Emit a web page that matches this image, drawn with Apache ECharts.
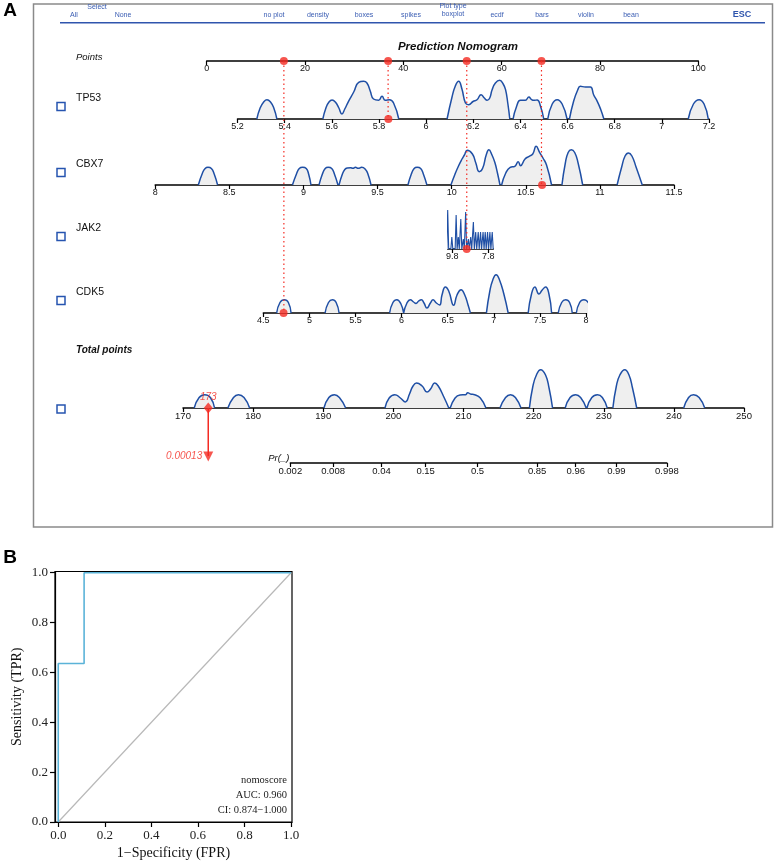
<!DOCTYPE html>
<html>
<head>
<meta charset="utf-8">
<title>Prediction Nomogram / ROC</title>
<script src="https://cdn.jsdelivr.net/npm/echarts/dist/echarts.min.js"></script>
<style>
    html, body { margin: 0; padding: 0; background: #fff; }
    #main { width: 775px; height: 863px; }
</style>
</head>
<body>
<div id="main"></div>
<script>
// ---------------- data ----------------
var varNames = ['TP53', 'CBX7', 'JAK2', 'CDK5'];
var varValues = [5.84, 10.61, 9.0, 4.72];      // patient's value on each variable axis (red dots)
var varPoints = [36.9, 68.1, 52.9, 15.7];      // points given by each value (red dots on Points)
var predProb = '0.00013';                      // predicted probability at the total points
var prTickLabels = ['0.002', '0.008', '0.04', '0.15', '0.5', '0.85', '0.96', '0.99', '0.998'];
var prTickAt = [185.3, 191.4, 198.3, 204.6, 212.0, 220.5, 226.0, 231.8, 239.0]; // place on total points scale
var jak2Ticks = [9.8, 7.8];

// density bumps: [value, height]
var tp53Density = [
    [[5.282, 0], [5.296, 11], [5.311, 17], [5.325, 19.3], [5.340, 17], [5.354, 11], [5.367, 0]],
    [[5.562, 0], [5.575, 11], [5.588, 17], [5.601, 19], [5.615, 17], [5.630, 11], [5.643, 5], [5.655, 10], [5.671, 17.7], [5.693, 27], [5.714, 36.7], [5.735, 37.7], [5.749, 36], [5.763, 28], [5.777, 20], [5.799, 18.7], [5.813, 22.7], [5.827, 18.7], [5.845, 19.3], [5.862, 16], [5.884, 0]],
    [[6.089, 0], [6.110, 22], [6.124, 33], [6.138, 37.7], [6.152, 30], [6.167, 16], [6.181, 14.3], [6.199, 17.5], [6.216, 19.3], [6.233, 24.3], [6.247, 21], [6.259, 18.7], [6.270, 21], [6.280, 29.3], [6.294, 36], [6.312, 38.7], [6.327, 35], [6.337, 29.3], [6.347, 15], [6.355, 0]],
    [[6.369, 0], [6.383, 12], [6.400, 18.7], [6.421, 18.7], [6.436, 22], [6.447, 19.5], [6.457, 18.7], [6.471, 19], [6.485, 13], [6.499, 0]],
    [[6.516, 0], [6.535, 15], [6.556, 19.3], [6.577, 15], [6.598, 0]],
    [[6.608, 0], [6.626, 18], [6.643, 29], [6.654, 32.7], [6.676, 32], [6.697, 32], [6.711, 24], [6.726, 17.7], [6.740, 10], [6.754, 0]],
    [[7.112, 0], [7.134, 15], [7.158, 19.3], [7.179, 15], [7.197, 0]]
];
var cbx7Density = [
    [[8.291, 0], [8.319, 12], [8.337, 16.5], [8.356, 17.7], [8.379, 16.5], [8.398, 11], [8.421, 0]],
    [[8.926, 0], [8.953, 11], [8.972, 16.5], [8.995, 17.7], [9.019, 16.5], [9.035, 11], [9.051, 0]],
    [[9.105, 0], [9.128, 11], [9.147, 16.5], [9.167, 17.7], [9.191, 16.5], [9.209, 11], [9.233, 0]],
    [[9.240, 0], [9.263, 11], [9.279, 15.5], [9.295, 17], [9.319, 17.3], [9.333, 16.7], [9.351, 17.7], [9.370, 16.7], [9.393, 17.7], [9.416, 16], [9.435, 11], [9.456, 0]],
    [[9.705, 0], [9.728, 11], [9.747, 16.5], [9.767, 17.7], [9.791, 16.5], [9.809, 11], [9.833, 0]],
    [[9.995, 0], [10.023, 11], [10.047, 19.3], [10.070, 26], [10.086, 30], [10.105, 34.7], [10.140, 31], [10.163, 22], [10.186, 13.3], [10.209, 16.7], [10.233, 30], [10.251, 35.3], [10.272, 30], [10.291, 22.7], [10.309, 12], [10.326, 0]],
    [[10.337, 0], [10.365, 12], [10.395, 17.7], [10.426, 18.7], [10.449, 23.3], [10.465, 19.3], [10.495, 26], [10.523, 28.7], [10.547, 31], [10.570, 38.7], [10.593, 32.7], [10.616, 27], [10.640, 20], [10.674, 0]],
    [[10.744, 0], [10.767, 22], [10.786, 32.5], [10.807, 35.3], [10.830, 32.5], [10.853, 22], [10.884, 0]],
    [[11.116, 0], [11.147, 18], [11.170, 29], [11.193, 32], [11.216, 29], [11.244, 18], [11.286, 0]]
];
// JAK2 is drawn as a comb of spikes: [value, height]
var jak2Spikes = [[10.06, 39], [9.83, 12], [9.59, 34], [9.47, 12], [9.33, 30], [9.19, 10], [9.06, 37], [8.91, 10], [8.78, 12], [8.63, 27], [8.50, 17], [8.36, 17], [8.23, 17], [8.09, 17], [7.97, 17], [7.84, 17], [7.71, 17], [7.58, 17]];
var cdk5Density = [
    [[4.645, 0], [4.681, 10.5], [4.728, 13.3], [4.772, 10.5], [4.801, 0]],
    [[5.170, 0], [5.207, 10.5], [5.250, 13.3], [5.290, 10.5], [5.322, 0]],
    [[5.870, 0], [5.906, 10.5], [5.949, 13.3], [5.993, 9], [6.022, 0]],
    [[6.022, 0], [6.058, 10], [6.094, 13.3], [6.130, 11], [6.156, 9.5], [6.185, 12], [6.214, 13.3], [6.243, 10], [6.275, 5], [6.312, 10], [6.341, 13.3], [6.377, 10], [6.413, 8], [6.438, 18], [6.475, 26], [6.511, 22], [6.565, 7.7], [6.601, 18], [6.645, 23.3], [6.685, 18], [6.721, 8], [6.746, 0]],
    [[6.920, 0], [6.957, 22], [6.989, 33], [7.025, 38.3], [7.062, 33], [7.109, 19], [7.156, 0]],
    [[7.373, 0], [7.409, 19], [7.446, 26], [7.489, 19], [7.525, 23], [7.562, 26], [7.598, 19], [7.627, 0]],
    [[7.699, 0], [7.736, 10.5], [7.779, 13.3], [7.822, 10.5], [7.851, 0]],
    [[7.895, 0], [7.931, 10.5], [7.978, 13.3], [8.025, 10.5], [8.076, 0]]
];
var totalDensity = [
    [[171.6, 0], [172.3, 10.5], [173.1, 13.3], [173.9, 10.5], [174.5, 0]],
    [[176.4, 0], [177.2, 10.5], [177.9, 13.3], [178.7, 10.5], [179.5, 0]],
    [[190.1, 0], [190.8, 10.5], [191.6, 13.3], [192.3, 10.5], [193.2, 0]],
    [[198.8, 0], [199.4, 10], [200.2, 13.3], [201.0, 10], [201.7, 6], [202.3, 14], [202.8, 22], [203.3, 25], [204.1, 22], [204.8, 16], [205.3, 19], [205.9, 25], [206.4, 22], [207.2, 11], [207.9, 0]],
    [[208.1, 0], [208.8, 10], [209.5, 13], [210.3, 13.3], [210.6, 15.3], [211.0, 14], [211.6, 13.3], [212.4, 10], [213.2, 0]],
    [[215.2, 0], [216.0, 10.5], [216.7, 13.3], [217.4, 10.5], [218.2, 0]],
    [[219.4, 0], [219.9, 22], [220.4, 33], [221.0, 38.3], [221.7, 33], [222.2, 20], [222.7, 0]],
    [[224.5, 0], [225.2, 10.5], [226.0, 13.3], [226.7, 10.5], [227.5, 0]],
    [[227.6, 0], [228.3, 10.5], [229.1, 13.3], [229.8, 10.5], [230.5, 0]],
    [[231.3, 0], [231.8, 22], [232.3, 33], [233.0, 38.3], [233.6, 33], [234.1, 20], [234.7, 0]],
    [[241.4, 0], [242.1, 10.5], [242.8, 13.3], [243.6, 10.5], [244.4, 0]]
];

// ROC curve
var rocFpr = [0, 0, 0.111, 0.111, 1];
var rocTpr = [0, 0.636, 0.636, 1, 1];
var rocTicks = [0, 0.2, 0.4, 0.6, 0.8, 1.0];
var rocLegend = ['nomoscore', 'AUC: 0.960', 'CI: 0.874\u22121.000'];

// ---------------- layout / style ----------------
var SANS = '"Liberation Sans", Arial, sans-serif';
var SERIF = '"Liberation Serif", "Times New Roman", serif';
var RED = '#f42a22';
var BLUE = '#1f4fa5';
var ROW_H = 42; // height of a density strip, 1 unit = 1px

// each row: y of the axis line, left/right px of the axis, range
var rows = [
    {key: 'Points', y: 61, left: 206.7, right: 698.3, min: 0, max: 100, step: 20},
    {key: 'TP53', y: 119, left: 237.5, right: 709, min: 5.2, max: 7.2, step: 0.2, dens: tp53Density},
    {key: 'CBX7', y: 185, left: 155.2, right: 674, min: 8, max: 11.5, step: 0.5, dens: cbx7Density},
    {key: 'JAK2', y: 249, left: 447.7, right: 493.3, min: 7.52, max: 10.06, inverse: true, ticks: jak2Ticks},
    {key: 'CDK5', y: 313, left: 263.3, right: 586, min: 4.5, max: 8, step: 0.5, dens: cdk5Density},
    {key: 'Total', y: 408, left: 183, right: 744, min: 170, max: 250, step: 10, dens: totalDensity, font: 9.5}
];
var PR_Y = 463;

function totalPx(v) {
    var t = rows[5];
    return t.left + (v - t.min) / (t.max - t.min) * (t.right - t.left);
}

// segments -> one line with gaps
function segData(segs) {
    var out = [];
    segs.forEach(function (s, i) {
        if (i > 0) out.push([s[0][0], null]);
        s.forEach(function (p) { out.push(p); });
    });
    return out;
}

// spikes -> zigzag comb
function combData(spikes) {
    var w = 0.055, out = [];
    spikes.forEach(function (s) {
        out.push([s[0] + w, 0]);
        out.push([s[0], s[1]]);
        out.push([s[0] - w, 0]);
    });
    return out;
}

function axisStyle(fontSize) {
    return {
        axisLine: {show: true, onZero: false, lineStyle: {color: '#000', width: 1.5}},
        axisTick: {show: true, length: 4, lineStyle: {color: '#000', width: 1.2}},
        axisLabel: {show: true, fontFamily: SANS, fontSize: fontSize || 9, color: '#111', margin: 3, hideOverlap: false, showMinLabel: true, showMaxLabel: true},
        splitLine: {show: false}
    };
}

var grids = [], xAxes = [], yAxes = [], series = [];

rows.forEach(function (r, i) {
    grids.push({left: r.left, top: r.y - ROW_H, width: r.right - r.left, height: ROW_H, outerBoundsMode: 'none'});
    var xa = Object.assign({type: 'value', gridIndex: i, min: r.min, max: r.max, inverse: !!r.inverse, position: 'bottom'}, axisStyle(r.font));
    if (r.step) xa.interval = r.step;
    if (r.ticks) {
        xa.axisTick.customValues = r.ticks;
        xa.axisLabel.customValues = r.ticks;
    }
    xAxes.push(xa);
    yAxes.push({type: 'value', gridIndex: i, min: 0, max: ROW_H, show: false});
});

// Pr axis (index 6), placed on the total points scale
var prMin = prTickAt[0], prMax = prTickAt[prTickAt.length - 1];
grids.push({left: totalPx(prMin), top: PR_Y - ROW_H, width: totalPx(prMax) - totalPx(prMin), height: ROW_H, outerBoundsMode: 'none'});
var prAxis = Object.assign({type: 'value', gridIndex: 6, min: prMin, max: prMax, position: 'bottom',
    name: 'Pr(_)', nameLocation: 'start', nameGap: 1,
    nameTextStyle: {fontFamily: SANS, fontSize: 9.5, fontStyle: 'italic', color: '#111', verticalAlign: 'bottom', align: 'right'}}, axisStyle(9.5));
prAxis.axisTick.customValues = prTickAt;
prAxis.axisLabel.customValues = prTickAt;
prAxis.axisLabel.formatter = function (v) {
    var best = 0;
    prTickAt.forEach(function (p, k) { if (Math.abs(p - v) < Math.abs(prTickAt[best] - v)) best = k; });
    return prTickLabels[best];
};
xAxes.push(prAxis);
yAxes.push({type: 'value', gridIndex: 6, min: 0, max: ROW_H, show: false});

// overlay for the dotted connectors (index 7): Points scale, y in px below the Points axis
var connH = rows[4].y - rows[0].y;
grids.push({left: rows[0].left, top: rows[0].y, width: rows[0].right - rows[0].left, height: connH, outerBoundsMode: 'none'});
xAxes.push({type: 'value', gridIndex: 7, min: 0, max: 100, show: false});
yAxes.push({type: 'value', gridIndex: 7, min: 0, max: connH, inverse: true, show: false});

// overlay for the arrow to the probability (index 8)
var arrowH = 56;
grids.push({left: rows[5].left, top: rows[5].y, width: rows[5].right - rows[5].left, height: arrowH, outerBoundsMode: 'none'});
xAxes.push({type: 'value', gridIndex: 8, min: 170, max: 250, show: false});
yAxes.push({type: 'value', gridIndex: 8, min: 0, max: arrowH, inverse: true, show: false});

// ROC (index 9)
grids.push({left: 55, top: 571.5, width: 237, height: 250.5, show: true, borderColor: '#000', borderWidth: 1.2, backgroundColor: 'transparent', outerBoundsMode: 'none'});
xAxes.push({
    type: 'value', gridIndex: 9, min: -0.014, max: 1.004, position: 'bottom',
    name: '1\u2212Specificity (FPR)', nameLocation: 'middle', nameGap: 24,
    nameTextStyle: {fontFamily: SERIF, fontSize: 14, color: '#111'},
    axisLine: {show: true, onZero: false, lineStyle: {color: '#000', width: 1.2}},
    axisTick: {show: true, length: 5, customValues: rocTicks, lineStyle: {color: '#000', width: 1.2}},
    axisLabel: {customValues: rocTicks, fontFamily: SERIF, fontSize: 13, color: '#222', margin: 7, hideOverlap: false,
        formatter: function (v) { return v.toFixed(1); }},
    splitLine: {show: false}
});
yAxes.push({
    type: 'value', gridIndex: 9, min: 0, max: 1.005,
    name: 'Sensitivity (TPR)', nameLocation: 'middle', nameGap: 31,
    nameTextStyle: {fontFamily: SERIF, fontSize: 14, color: '#111'},
    axisLine: {show: true, onZero: false, lineStyle: {color: '#000', width: 1.2}},
    axisTick: {show: true, length: 5, customValues: rocTicks, lineStyle: {color: '#000', width: 1.2}},
    axisLabel: {customValues: rocTicks, fontFamily: SERIF, fontSize: 13, color: '#222', margin: 7, hideOverlap: false,
        formatter: function (v) { return v.toFixed(1); }},
    splitLine: {show: false}
});

// density strips
rows.forEach(function (r, i) {
    if (!r.dens && r.key !== 'JAK2') return;
    series.push({
        type: 'line', xAxisIndex: i, yAxisIndex: i,
        data: r.key === 'JAK2' ? combData(jak2Spikes) : segData(r.dens),
        smooth: r.key === 'JAK2' ? false : 0.5,
        connectNulls: false, symbol: 'none', silent: true, z: 2,
        lineStyle: {color: BLUE, width: r.key === 'JAK2' ? 1.1 : 1.5},
        areaStyle: {color: '#efefef', opacity: 1}
    });
});

// red dotted connectors from Points to each variable
varPoints.forEach(function (p, k) {
    series.push({
        type: 'line', xAxisIndex: 7, yAxisIndex: 7, symbol: 'none', silent: true, z: 5,
        data: [[p, 0], [p, rows[k + 1].y - rows[0].y]],
        lineStyle: {color: RED, width: 1.2, type: [1.5, 3]}
    });
});

// red dots on Points
series.push({
    type: 'scatter', xAxisIndex: 0, yAxisIndex: 0, symbolSize: 8, z: 6, silent: true,
    itemStyle: {color: RED},
    data: varPoints.map(function (p) { return [p, 0]; })
});

// red dots on the variable axes
varValues.forEach(function (v, k) {
    series.push({
        type: 'scatter', xAxisIndex: k + 1, yAxisIndex: k + 1, symbolSize: 8, z: 6, silent: true,
        itemStyle: {color: RED},
        data: [[v, 0]]
    });
});

// total points marker
var totalPts = varPoints.reduce(function (a, b) { return a + b; }, 0);
series.push({
    type: 'scatter', xAxisIndex: 5, yAxisIndex: 5, symbol: 'diamond', symbolSize: [9, 11], z: 6, silent: true,
    itemStyle: {color: RED},
    label: {show: true, position: 'top', distance: 0, formatter: String(Math.floor(totalPts)),
        fontFamily: SANS, fontSize: 10, fontStyle: 'italic', color: RED},
    data: [[totalPts, 0]]
});
// arrow down to the probability
series.push({
    type: 'line', xAxisIndex: 8, yAxisIndex: 8, symbol: 'none', silent: true, z: 5,
    data: [[totalPts, 0], [totalPts, 48]],
    lineStyle: {color: RED, width: 1.5}
});
series.push({
    type: 'scatter', xAxisIndex: 8, yAxisIndex: 8, symbol: 'triangle', symbolRotate: 180, symbolSize: [10, 10], z: 6, silent: true,
    itemStyle: {color: RED},
    label: {show: true, position: 'left', distance: 1, formatter: predProb,
        fontFamily: SANS, fontSize: 10, fontStyle: 'italic', color: RED},
    data: [[totalPts, 48.5]]
});

// ROC
series.push({
    type: 'line', xAxisIndex: 9, yAxisIndex: 9, symbol: 'none', silent: true, z: 2,
    data: [[0, 0], [1, 1]],
    lineStyle: {color: '#b8b8b8', width: 1.2}
});
series.push({
    type: 'line', xAxisIndex: 9, yAxisIndex: 9, symbol: 'none', silent: true, z: 3,
    data: rocFpr.map(function (f, k) { return [f, rocTpr[k]]; }),
    lineStyle: {color: '#5bb3d8', width: 1.6}
});

// ---------------- texts / frame ----------------
function txt(t, x, y, font, color, align) {
    return {type: 'text', x: x, y: y, silent: true, z: 10,
        style: {text: t, font: font, fill: color || '#111', align: align || 'center', verticalAlign: 'middle'}};
}
var menuFont = '7px ' + SANS;
var menuColor = '#3a5db3';
var menu = [
    ['All', 74, 15], ['Select', 97, 7], ['None', 123, 15], ['no plot', 274, 15], ['density', 318, 15],
    ['boxes', 364, 15], ['spikes', 411, 15], ['Plot type', 453, 6.5], ['boxplot', 453, 14.5],
    ['ecdf', 497, 15], ['bars', 542, 15], ['violin', 586, 15], ['bean', 631, 15]
];
var graphic = [
    {type: 'rect', silent: true, z: 0, shape: {x: 33.5, y: 4, width: 739, height: 523},
        style: {fill: 'none', stroke: '#8a8a8a', lineWidth: 1.5}},
    {type: 'line', silent: true, z: 1, shape: {x1: 60, y1: 22.7, x2: 765, y2: 22.7},
        style: {stroke: '#2f55ad', lineWidth: 1.5}},
    txt('ESC', 742, 15, 'bold 9px ' + SANS, '#2f55ad'),
    txt('A', 10, 11, 'bold 19px ' + SANS, '#000'),
    txt('B', 10, 558, 'bold 19px ' + SANS, '#000'),
    txt('Points', 76, 57, 'italic 9.5px ' + SANS, '#111', 'left'),
    txt('Total points', 76, 350, 'italic bold 10px ' + SANS, '#111', 'left'),
    {type: 'rect', silent: true, z: 10, shape: {x: 57, y: rows[5].y - 3, width: 8, height: 8},
        style: {fill: 'none', stroke: '#2654b0', lineWidth: 1.5}}
];
menu.forEach(function (m) { graphic.push(txt(m[0], m[1], m[2], menuFont, menuColor)); });
varNames.forEach(function (n, k) {
    var y = rows[k + 1].y;
    graphic.push(txt(n, 76, y - 21, '10.5px ' + SANS, '#111', 'left'));
    graphic.push({type: 'rect', silent: true, z: 10, shape: {x: 57, y: y - 16.5, width: 8, height: 8},
        style: {fill: 'none', stroke: '#2654b0', lineWidth: 1.5}});
});
rocLegend.forEach(function (t, k) {
    graphic.push(txt(t, 287, 780 + k * 15, '10.5px ' + SERIF, '#222', 'right'));
});

var option = {
    animation: false,
    backgroundColor: '#fff',
    title: {
        text: 'Prediction Nomogram', left: 453, top: 36, textAlign: 'center',
        textStyle: {fontFamily: SANS, fontSize: 11.5, fontWeight: 'bold', fontStyle: 'italic', color: '#111'}
    },
    grid: grids,
    xAxis: xAxes,
    yAxis: yAxes,
    series: series,
    graphic: graphic
};

echarts.init(document.getElementById('main')).setOption(option);
</script>
</body>
</html>
